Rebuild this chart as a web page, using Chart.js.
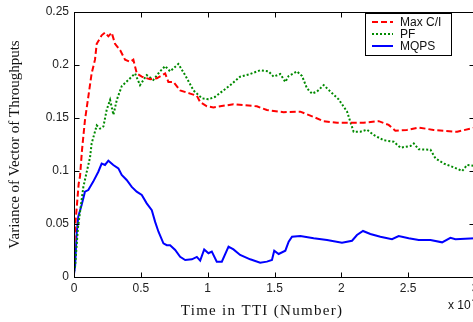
<!DOCTYPE html>
<html><head><meta charset="utf-8">
<script src="https://cdn.jsdelivr.net/npm/chart.js@4"></script>
<style>
html,body{margin:0;padding:0;background:#fff;overflow:hidden;width:473px;height:322px}
#wrap{position:relative;width:475px;height:322px}
</style>
</head><body><div id="wrap"><canvas id="c"></canvas></div>
<script>
// x values are in units of 10^4 TTI
const xTicks = [0, 0.5, 1, 1.5, 2, 2.5, 3];
const yTicks = [0, 0.05, 0.1, 0.15, 0.2, 0.25];
const seriesNames = ['Max C/I', 'PF', 'MQPS'];
const xTitle = 'Time in TTI (Number)';
const yTitle = 'Variance of Vector of Throughputs';

const maxciX = [0,0.01,0.02,0.035,0.045,0.06,0.082,0.107,0.132,0.157,0.17,0.207,0.232,0.257,0.282,0.307,0.345,0.382,0.42,0.444,0.47,0.507,0.57,0.62,0.682,0.706,0.744,0.794,0.869,0.919,0.944,0.994,1.043,1.193,1.368,1.443,1.568,1.693,1.793,1.867,1.968,2.167,2.28,2.354,2.404,2.49,2.58,2.69,2.867,3.0];
const maxciY = [0.025,0.05,0.065,0.088,0.095,0.12,0.148,0.17,0.192,0.205,0.22,0.228,0.2305,0.227,0.2305,0.22,0.214,0.205,0.203,0.205,0.192,0.189,0.1865,0.1875,0.192,0.184,0.184,0.176,0.173,0.171,0.165,0.161,0.16,0.163,0.161,0.1575,0.1555,0.156,0.151,0.147,0.1455,0.1455,0.147,0.1435,0.138,0.1387,0.141,0.1387,0.137,0.141];

const pfX = [0,0.008,0.03,0.07,0.12,0.132,0.17,0.195,0.22,0.245,0.27,0.295,0.32,0.357,0.407,0.457,0.494,0.544,0.594,0.644,0.682,0.719,0.781,0.831,0.894,0.957,1.006,1.056,1.169,1.243,1.318,1.393,1.456,1.493,1.543,1.581,1.606,1.668,1.706,1.743,1.781,1.818,1.868,1.918,1.98,2.043,2.067,2.092,2.142,2.192,2.242,2.317,2.392,2.442,2.517,2.542,2.579,2.667,2.704,2.767,2.841,2.904,2.941,3.0];
const pfY = [0.005,0.01,0.047,0.085,0.113,0.126,0.143,0.14,0.142,0.158,0.167,0.153,0.167,0.18,0.186,0.192,0.181,0.1905,0.186,0.194,0.199,0.194,0.201,0.1905,0.176,0.1686,0.1676,0.17,0.181,0.189,0.1915,0.195,0.194,0.189,0.1915,0.184,0.1896,0.194,0.1896,0.178,0.173,0.175,0.181,0.175,0.1676,0.156,0.1465,0.137,0.137,0.139,0.134,0.129,0.1277,0.122,0.1236,0.126,0.1205,0.12,0.112,0.107,0.1035,0.1,0.1057,0.1047];

const mqpsX = [0,0.008,0.02,0.032,0.057,0.082,0.107,0.144,0.182,0.207,0.232,0.257,0.294,0.332,0.357,0.394,0.432,0.469,0.507,0.544,0.582,0.607,0.632,0.669,0.694,0.719,0.757,0.794,0.832,0.882,0.919,0.944,0.974,1.006,1.031,1.068,1.106,1.156,1.193,1.243,1.318,1.393,1.443,1.481,1.498,1.531,1.581,1.606,1.631,1.693,1.793,1.893,2.005,2.08,2.117,2.162,2.217,2.292,2.379,2.429,2.504,2.579,2.667,2.754,2.816,2.854,3.0];
const mqpsY = [0.003,0.01,0.041,0.057,0.068,0.0805,0.082,0.09,0.0993,0.107,0.1057,0.1097,0.1057,0.1025,0.0962,0.0915,0.085,0.0805,0.0774,0.0695,0.063,0.052,0.0427,0.0318,0.03,0.03,0.0255,0.019,0.016,0.0167,0.019,0.0155,0.026,0.0224,0.0239,0.0145,0.0145,0.0286,0.026,0.0208,0.0167,0.0135,0.0145,0.016,0.0248,0.0217,0.0248,0.0333,0.038,0.0387,0.0365,0.035,0.0324,0.0342,0.0396,0.0434,0.0406,0.038,0.0356,0.0387,0.0365,0.035,0.035,0.0327,0.037,0.0356,0.0365];

const pts = (xs, ys) => xs.map((x, i) => ({x, y: ys[i]}));

const TICK_FONT = {family: "'Liberation Sans', Arial, sans-serif", size: 12};

const framePlugin = {
  id: 'frame',
  afterDraw(chart) {
    const {ctx, chartArea: a, scales: {x, y}} = chart;
    ctx.save();
    ctx.strokeStyle = '#000';
    ctx.lineWidth = 1;
    const L = Math.round(a.left) + 0.5, R = Math.round(a.right) - 0.5;
    const T = Math.round(a.top) + 0.5, B = Math.round(a.bottom) + 0.5;
    ctx.strokeRect(L, T, R - L, B - T);
    ctx.beginPath();
    xTicks.forEach(v => {
      const p = Math.round(x.getPixelForValue(v)) + 0.5;
      ctx.moveTo(p, B); ctx.lineTo(p, B - 5);
      ctx.moveTo(p, T); ctx.lineTo(p, T + 5);
    });
    yTicks.forEach(v => {
      const p = Math.round(y.getPixelForValue(v)) + 0.5;
      ctx.moveTo(L, p); ctx.lineTo(L + 5, p);
      ctx.moveTo(R, p); ctx.lineTo(R - 5, p);
    });
    ctx.stroke();

    // legend
    const bx = 365.5, by = 13.5, bw = 86, bh = 42;
    ctx.fillStyle = '#fff';
    ctx.fillRect(bx, by, bw, bh);
    ctx.strokeStyle = '#000';
    ctx.strokeRect(bx, by, bw, bh);
    ctx.font = "12px 'Liberation Sans', Arial, sans-serif";
    ctx.textBaseline = 'middle';
    ctx.textAlign = 'left';
    chart.data.datasets.forEach((ds, i) => {
      const cy = 22 + i * 12;
      ctx.save();
      ctx.strokeStyle = ds.borderColor;
      ctx.lineWidth = ds.borderWidth;
      ctx.setLineDash(ds.borderDash || []);
      ctx.beginPath();
      ctx.moveTo(372, cy); ctx.lineTo(393, cy);
      ctx.stroke();
      ctx.restore();
      ctx.fillStyle = '#111';
      ctx.fillText(ds.label, 400, cy + 0.5);
    });

    // x title with letter spacing
    ctx.font = "15px 'Liberation Serif', 'Times New Roman', serif";
    ctx.fillStyle = '#111';
    ctx.textAlign = 'center';
    ctx.textBaseline = 'alphabetic';
    if ('letterSpacing' in ctx) ctx.letterSpacing = '1.3px';
    ctx.fillText(xTitle, 262, 315);
    if ('letterSpacing' in ctx) ctx.letterSpacing = '0px';

    // exponent label
    ctx.font = "12px 'Liberation Sans', Arial, sans-serif";
    ctx.textAlign = 'left';
    ctx.fillText('x 10', 448, 309);
    ctx.font = "9px 'Liberation Sans', Arial, sans-serif";
    ctx.fillText('4', 472, 302);
    ctx.restore();
  }
};

new Chart(document.getElementById('c'), {
  type: 'line',
  data: {
    datasets: [
      {label: seriesNames[0], data: pts(maxciX, maxciY), borderColor: '#ff0000', borderWidth: 2, borderDash: [6, 3]},
      {label: seriesNames[1], data: pts(pfX, pfY), borderColor: '#008a00', borderWidth: 2, borderDash: [2, 2]},
      {label: seriesNames[2], data: pts(mqpsX, mqpsY), borderColor: '#0000ff', borderWidth: 2}
    ]
  },
  options: {
    responsive: true,
    maintainAspectRatio: false,
    animation: false,
    layout: {padding: {top: 12, right: 0, bottom: 0, left: 0}},
    elements: {point: {radius: 0}, line: {tension: 0, fill: false}},
    plugins: {legend: {display: false}, tooltip: {enabled: false}},
    scales: {
      x: {
        type: 'linear', min: 0, max: 3,
        afterBuildTicks: s => { s.ticks = xTicks.map(v => ({value: v})); },
        ticks: {font: TICK_FONT, color: '#222', padding: 4, maxRotation: 0,
          callback: v => String(v)},
        grid: {display: false, drawTicks: false},
        border: {display: false},
        afterFit: s => { s.height = 45; s.paddingLeft = 0; s.paddingRight = 0; }
      },
      y: {
        min: 0, max: 0.25,
        afterBuildTicks: s => { s.ticks = yTicks.map(v => ({value: v})); },
        ticks: {font: TICK_FONT, color: '#222', padding: 5,
          callback: v => String(v)},
        grid: {display: false, drawTicks: false},
        border: {display: false},
        title: {display: true, text: yTitle, color: '#111', padding: {top: 6, bottom: 0},
          font: {family: "'Liberation Serif', 'Times New Roman', serif", size: 15}},
        afterFit: s => { s.width = 74; s.paddingTop = 0; s.paddingBottom = 0; }
      }
    }
  },
  plugins: [framePlugin]
});
</script>
</body></html>
